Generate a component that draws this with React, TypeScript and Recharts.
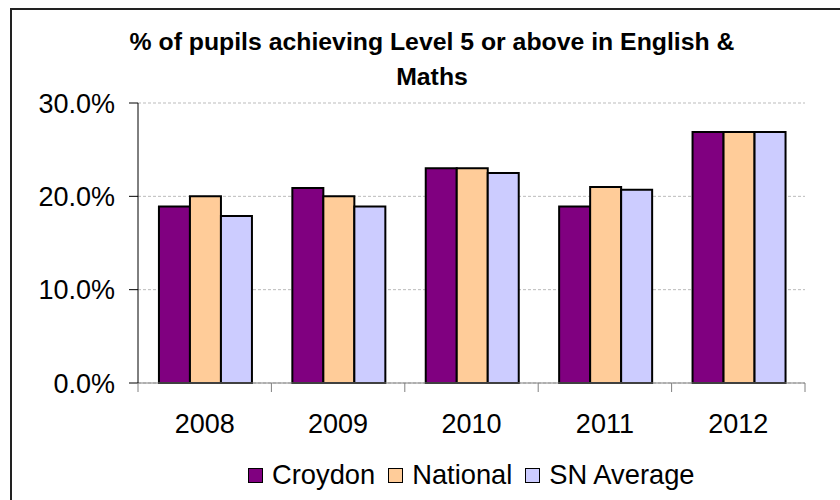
import { BarChart, Bar, XAxis, YAxis, CartesianGrid, Legend } from "recharts";

// --- Data (percent of pupils) ---
const YEARS = ["2008", "2009", "2010", "2011", "2012"];
const CROYDON = [18.9, 20.9, 23.0, 18.9, 26.9];
const NATIONAL = [20.0, 20.0, 23.0, 21.0, 26.9];
const SN_AVERAGE = [17.9, 18.9, 22.5, 20.7, 26.9];
const Y_TICKS = [0, 10, 20, 30];

const SERIES = [
  { key: "croydon", name: "Croydon", color: "#800080" },
  { key: "national", name: "National", color: "#FFCC99" },
  { key: "sn", name: "SN Average", color: "#CCCCFF" },
];

const DATA = YEARS.map((year, i) => ({
  year,
  croydon: CROYDON[i],
  national: NATIONAL[i],
  sn: SN_AVERAGE[i],
}));

// --- Layout ---
const W = 840;
const H = 500;
const FONT = "'Liberation Sans', Arial, sans-serif";
const PLOT_LEFT = 138;
const PLOT_RIGHT = 805;
const BAND = (PLOT_RIGHT - PLOT_LEFT) / YEARS.length;

// x ticks sit on the category boundaries, labels in the middle
function YearTick(props: any) {
  const { x, y, payload, index } = props;
  return (
    <g>
      <line x1={x - BAND / 2} x2={x - BAND / 2} y1={y} y2={y + 9} stroke="#808080" />
      {index === YEARS.length - 1 && (
        <line x1={x + BAND / 2} x2={x + BAND / 2} y1={y} y2={y + 9} stroke="#808080" />
      )}
      <text x={x} y={y + 50} textAnchor="middle" fontSize={27} fill="#000" fontFamily={FONT}>
        {payload.value}
      </text>
    </g>
  );
}

function LegendContent() {
  return (
    <div style={{ display: "flex", alignItems: "center", height: 30, fontFamily: FONT, fontSize: 27.3, lineHeight: "30px" }}>
      {SERIES.map((s) => (
        <div key={s.key} style={{ display: "flex", alignItems: "center", marginRight: 13 }}>
          <span
            style={{
              display: "inline-block",
              width: 13,
              height: 13,
              background: s.color,
              border: "1.5px solid #000",
              marginRight: 9,
            }}
          />
          <span>{s.name}</span>
        </div>
      ))}
    </div>
  );
}

export default function App() {
  return (
    <div style={{ position: "absolute", left: 0, top: 0, width: W, height: H, overflow: "hidden", background: "#fff" }}>
      <div
        style={{
          position: "absolute",
          left: 10,
          top: 8,
          width: 900,
          height: 600,
          border: "2px solid #222",
        }}
      />
      <div
        style={{
          position: "absolute",
          left: 32,
          top: 24,
          width: 800,
          textAlign: "center",
          fontFamily: FONT,
          fontWeight: "bold",
          fontSize: 24.8,
          lineHeight: "35px",
          color: "#000",
        }}
      >
        % of pupils achieving Level 5 or above in English &amp;
        <br />
        Maths
      </div>
      <BarChart
        width={W}
        height={H}
        data={DATA}
        margin={{ top: 103, right: W - PLOT_RIGHT, left: 0, bottom: 57 }}
        barCategoryGap="15.7%"
        barGap={0}
        style={{ position: "absolute", left: 0, top: 0 }}
      >
        <CartesianGrid vertical={false} stroke="#bbbbbb" strokeDasharray="3 2" />
        <XAxis
          dataKey="year"
          height={60}
          interval={0}
          tickSize={0}
          tickMargin={0}
          tickLine={false}
          axisLine={{ stroke: "#808080" }}
          tick={<YearTick />}
        />
        <YAxis
          domain={[0, 30]}
          ticks={Y_TICKS}
          width={PLOT_LEFT}
          tickSize={9}
          tickMargin={14}
          axisLine={{ stroke: "#000" }}
          tickLine={{ stroke: "#000" }}
          tick={{ fill: "#000", fontSize: 27, fontFamily: FONT }}
          tickFormatter={(v: number) => `${v.toFixed(1)}%`}
        />
        <Legend
          layout="horizontal"
          verticalAlign="middle"
          align="center"
          content={<LegendContent />}
          wrapperStyle={{ top: 460, left: 248, width: 520, height: 30 }}
        />
        {SERIES.map((s) => (
          <Bar
            key={s.key}
            dataKey={s.key}
            name={s.name}
            fill={s.color}
            stroke="#000"
            strokeWidth={2}
            isAnimationActive={false}
          />
        ))}
      </BarChart>
    </div>
  );
}
